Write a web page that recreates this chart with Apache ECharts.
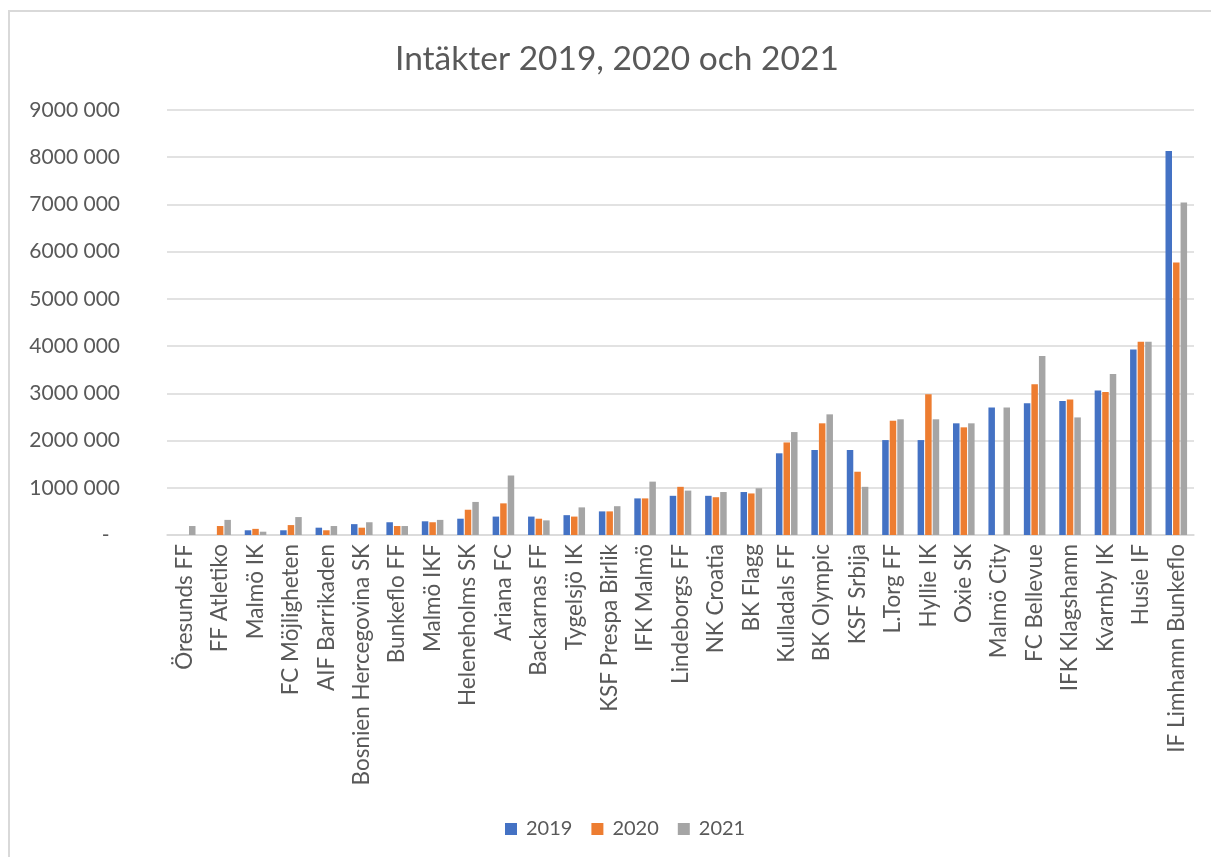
<!DOCTYPE html>
<html>
<head>
<meta charset="utf-8">
<script src="https://cdn.jsdelivr.net/npm/echarts@6/dist/echarts.min.js"></script>
<style>
  html, body { margin: 0; padding: 0; background: #fff; }
  #frame { position: absolute; left: 8px; top: 10px; width: 1400px; height: 1000px; border-top: 2px solid #d9d9d9; border-left: 2px solid #d9d9d9; }
  #chart { position: absolute; left: 0; top: 0; width: 1211px; height: 857px; }
</style>
</head>
<body>
<div id="frame"></div>
<div id="chart"></div>
<script>
const categories = ['Öresunds FF','FF Atletiko','Malmö IK','FC Möjligheten','AIF Barrikaden','Bosnien Hercegovina SK','Bunkeflo FF','Malmö IKF','Heleneholms SK','Ariana FC','Backarnas FF','Tygelsjö IK','KSF Prespa Birlik','IFK Malmö','Lindeborgs FF','NK Croatia','BK Flagg','Kulladals FF','BK Olympic','KSF Srbija','L.Torg FF','Hyllie IK','Oxie SK','Malmö City','FC Bellevue','IFK Klagshamn','Kvarnby IK','Husie IF','IF Limhamn Bunkeflo'];
const values2019 = [null, null, 100000, 100000, 155000, 230000, 270000, 290000, 345000, 390000, 390000, 420000, 500000, 775000, 830000, 830000, 910000, 1730000, 1800000, 1800000, 2010000, 2010000, 2365000, 2700000, 2790000, 2840000, 3060000, 3930000, 8130000];
const values2020 = [null, 190000, 130000, 210000, 100000, 155000, 190000, 270000, 535000, 670000, 345000, 390000, 500000, 775000, 1020000, 800000, 880000, 1960000, 2365000, 1340000, 2420000, 2980000, 2280000, null, 3190000, 2870000, 3030000, 4090000, 5770000];
const values2021 = [190000, 320000, 70000, 380000, 190000, 270000, 190000, 320000, 700000, 1260000, 310000, 585000, 610000, 1130000, 940000, 910000, 990000, 2180000, 2555000, 1020000, 2450000, 2450000, 2365000, 2700000, 3790000, 2490000, 3410000, 4090000, 7040000];
const seriesNames = ['2019', '2020', '2021'];
const yTickLabels = ['-\u2002', '1000 000', '2000 000', '3000 000', '4000 000', '5000 000', '6000 000', '7000 000', '8000 000', '9000 000'];
const titleText = 'Intäkter 2019, 2020 och 2021';

const FONT = 'Lato, "Open Sans", sans-serif';
const TXT = '#595959';
const colors = ['#4472C4', '#ED7D31', '#A5A5A5'];
const seriesData = [values2019, values2020, values2021];

const chart = echarts.init(document.getElementById('chart'), null, { renderer: 'canvas' });
chart.setOption({
  animation: false,
  color: colors,
  textStyle: { fontFamily: FONT, color: TXT },
  title: {
    text: titleText,
    left: 390,
    top: 37,
    textStyle: { fontFamily: FONT, fontSize: 33.5, fontWeight: 'normal', color: TXT }
  },
  legend: {
    data: seriesNames,
    left: 500,
    top: 814,
    icon: 'rect',
    itemWidth: 12,
    itemHeight: 12,
    itemGap: 19,
    textStyle: { fontFamily: FONT, fontSize: 20, color: TXT, padding: [0, 0, 0, 4] }
  },
  grid: { left: 167, right: 17, top: 110, bottom: 322, containLabel: false },
  xAxis: {
    type: 'category',
    data: categories,
    axisLine: { show: true, lineStyle: { color: '#D9D9D9', width: 1.5 } },
    axisTick: { show: false },
    axisLabel: { interval: 0, rotate: 90, fontFamily: FONT, fontSize: 22.5, color: TXT, margin: 9 }
  },
  yAxis: {
    type: 'value',
    min: 0,
    max: 9000000,
    interval: 1000000,
    axisLine: { show: false },
    axisTick: { show: false },
    splitLine: { lineStyle: { color: '#D9D9D9', width: 1.5 } },
    axisLabel: {
      fontFamily: FONT, fontSize: 21, color: TXT, margin: 47,
      formatter: function (v) { return yTickLabels[Math.round(v / 1000000)]; }
    }
  },
  series: seriesNames.map(function (name, i) {
    return {
      name: name,
      type: 'bar',
      data: seriesData[i],
      barWidth: 6.5,
      barGap: '16%',
      itemStyle: { color: colors[i] }
    };
  })
});
</script>
</body>
</html>
